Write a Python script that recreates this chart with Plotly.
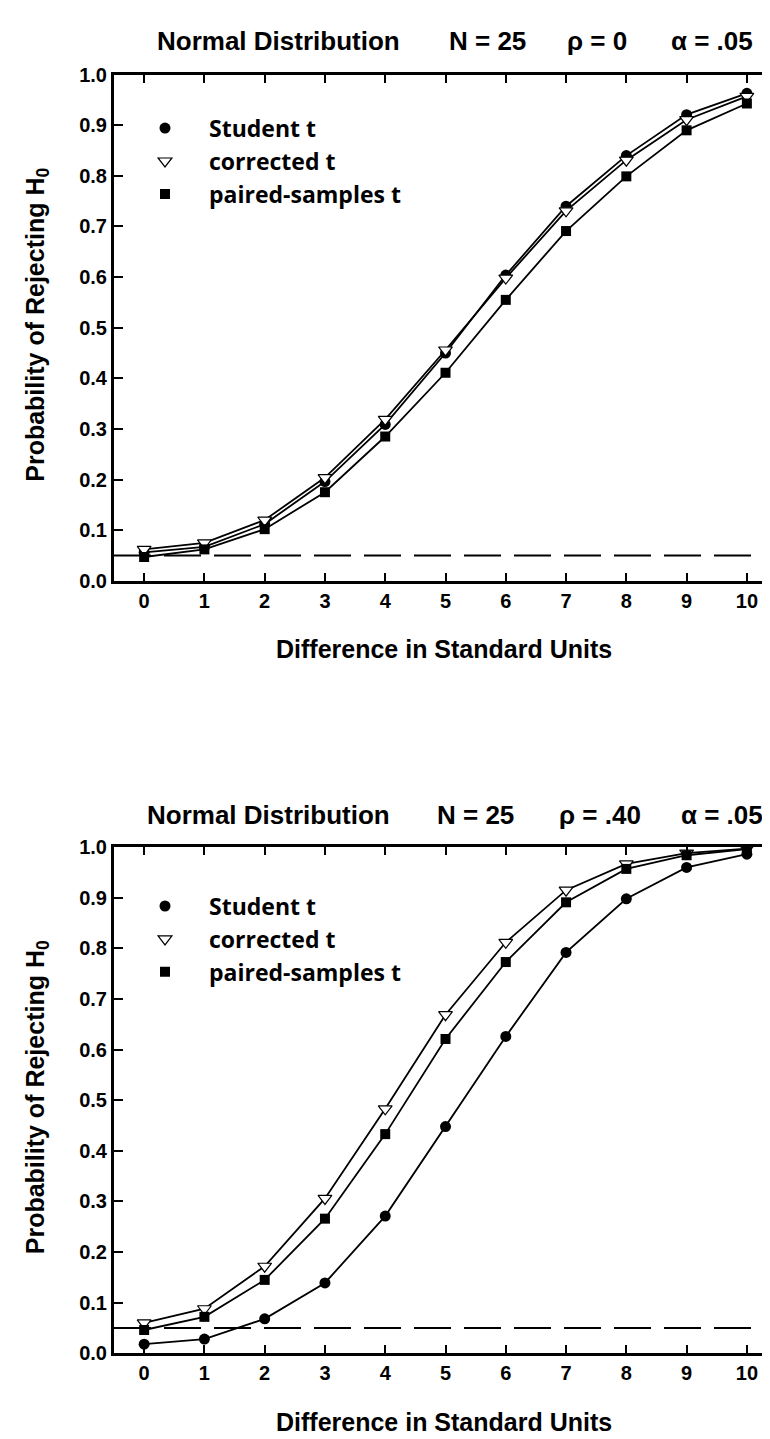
import plotly.graph_objects as go

# ---------------- data ----------------
diff_units = [0, 1, 2, 3, 4, 5, 6, 7, 8, 9, 10]
y_tick_vals = [0.0, 0.1, 0.2, 0.3, 0.4, 0.5, 0.6, 0.7, 0.8, 0.9, 1.0]
y_tick_text = ["0.0", "0.1", "0.2", "0.3", "0.4", "0.5", "0.6", "0.7", "0.8", "0.9", "1.0"]
alpha_level = 0.05

series_names = ["Student t", "corrected t", "paired-samples t"]

# Panel 1: rho = 0
rho0_student = [0.056, 0.067, 0.112, 0.196, 0.309, 0.450, 0.604, 0.740, 0.840, 0.921, 0.963]
rho0_corrected = [0.062, 0.075, 0.120, 0.204, 0.319, 0.456, 0.598, 0.731, 0.831, 0.911, 0.957]
rho0_paired = [0.047, 0.062, 0.102, 0.175, 0.285, 0.411, 0.555, 0.691, 0.799, 0.890, 0.943]

# Panel 2: rho = .40
rho40_student = [0.018, 0.028, 0.068, 0.139, 0.271, 0.448, 0.626, 0.792, 0.898, 0.960, 0.986]
rho40_corrected = [0.060, 0.088, 0.172, 0.306, 0.483, 0.669, 0.812, 0.915, 0.967, 0.988, 0.997]
rho40_paired = [0.046, 0.072, 0.145, 0.266, 0.433, 0.621, 0.773, 0.891, 0.957, 0.984, 0.996]

title_parts_top = ["Normal Distribution", "N = 25", "\u03c1 = 0", "\u03b1 = .05"]
title_parts_bottom = ["Normal Distribution", "N = 25", "\u03c1 = .40", "\u03b1 = .05"]
x_title = "Difference in Standard Units"
y_title = "Probability of Rejecting H<sub>0</sub>"

# ---------------- layout helpers ----------------
W, H = 770, 1439


def fx(p):
    return p / W


def fy(p):
    return 1 - p / H


ARIAL = "Liberation Sans, Arial, sans-serif"
LEG_FONT = "Open Sans, Lato, sans-serif"

marker_styles = [
    dict(symbol="circle", size=11, color="black", line=dict(color="black", width=0)),
    dict(symbol="triangle-down", size=12, color="white", line=dict(color="black", width=1.2)),
    dict(symbol="square", size=10, color="black", line=dict(color="black", width=0)),
]

fig = go.Figure()

panels = [
    dict(xa="x", ya="y", legend="legend",
         series=[rho0_student, rho0_corrected, rho0_paired]),
    dict(xa="x2", ya="y2", legend="legend2",
         series=[rho40_student, rho40_corrected, rho40_paired]),
]

for p in panels:
    for vals, ms in zip(p["series"], marker_styles):
        fig.add_trace(go.Scatter(
            x=diff_units, y=vals, mode="lines+markers",
            line=dict(color="black", width=1.8),
            marker=ms, cliponaxis=False, showlegend=False,
            xaxis=p["xa"], yaxis=p["ya"], hoverinfo="x+y",
        ))
    for name, ms in zip(series_names, marker_styles):
        fig.add_trace(go.Scatter(
            x=[None], y=[None], mode="markers", name=name,
            marker=ms, showlegend=True, legend=p["legend"],
            xaxis=p["xa"], yaxis=p["ya"],
        ))

# panel geometry in pixels
top_box = dict(left=106, right=766, top=56.5, bottom=570.5)
bot_box = dict(left=106, right=766, top=841, bottom=1355)

tickfont = dict(family=ARIAL, size=20, color="black", weight=700)


def xaxis_cfg(box, anchor):
    return dict(
        domain=[fx(box["left"]), fx(box["right"])], anchor=anchor,
        range=[-0.5, 10.45], tickmode="array", tickvals=diff_units,
        ticktext=[str(v) for v in diff_units],
        ticks="inside", ticklen=8, tickwidth=2, tickcolor="black",
        showline=True, linewidth=3, linecolor="black", mirror="ticks",
        showgrid=False, zeroline=False, tickfont=tickfont,
    )


def yaxis_cfg(box, anchor):
    return dict(
        domain=[fy(box["bottom"]), fy(box["top"])], anchor=anchor,
        range=[0, 1], tickmode="array", tickvals=y_tick_vals, ticktext=y_tick_text,
        ticks="inside", ticklen=9, tickwidth=2, tickcolor="black",
        showline=True, linewidth=3, linecolor="black", mirror="ticks",
        showgrid=False, zeroline=False, tickfont=tickfont,
    )


annotations = []
title_font = dict(family=ARIAL, size=26, color="black", weight=700)
axis_title_font = dict(family=ARIAL, size=25, color="black", weight=700)

for parts, xs, yc in [
    (title_parts_top, [270, 479, 589, 704], 22.7),
    (title_parts_bottom, [260, 467, 592, 714], 808),
]:
    for t, xc in zip(parts, xs):
        annotations.append(dict(
            text=t, xref="paper", yref="paper", x=fx(xc), y=fy(yc),
            xanchor="center", yanchor="middle", showarrow=False, font=title_font,
        ))

for box in (top_box, bot_box):
    annotations.append(dict(
        text=x_title, xref="paper", yref="paper",
        x=fx((box["left"] + box["right"]) / 2), y=fy(box["bottom"] + 69.5),
        xanchor="center", yanchor="middle", showarrow=False, font=axis_title_font,
    ))
    annotations.append(dict(
        text=y_title, xref="paper", yref="paper", textangle=-90,
        x=fx(29), y=fy((box["top"] + box["bottom"]) / 2 - 3),
        xanchor="center", yanchor="middle", showarrow=False, font=axis_title_font,
    ))

shapes = []
for xa, ya in [("x", "y"), ("x2", "y2")]:
    shapes.append(dict(
        type="line", xref=f"{xa} domain", yref=ya, x0=0, x1=1,
        y0=alpha_level, y1=alpha_level, layer="below",
        line=dict(color="black", width=2, dash="37px,13px"),
    ))

legend_common = dict(
    xanchor="left", yanchor="top", bgcolor="rgba(0,0,0,0)", borderwidth=0,
    font=dict(family=LEG_FONT, size=23, color="black", weight=700),
    tracegroupgap=0, itemclick=False, itemdoubleclick=False, itemwidth=78,
)

fig.update_layout(
    width=W, height=H,
    margin=dict(l=0, r=0, t=0, b=0),
    paper_bgcolor="white", plot_bgcolor="white",
    xaxis=xaxis_cfg(top_box, "y"), yaxis=yaxis_cfg(top_box, "x"),
    xaxis2=xaxis_cfg(bot_box, "y2"), yaxis2=yaxis_cfg(bot_box, "x2"),
    legend=dict(x=fx(113), y=fy(89), **legend_common),
    legend2=dict(x=fx(113), y=fy(879), **legend_common),
    annotations=annotations,
    shapes=shapes,
    showlegend=True,
)

fig.write_html("out.html")
